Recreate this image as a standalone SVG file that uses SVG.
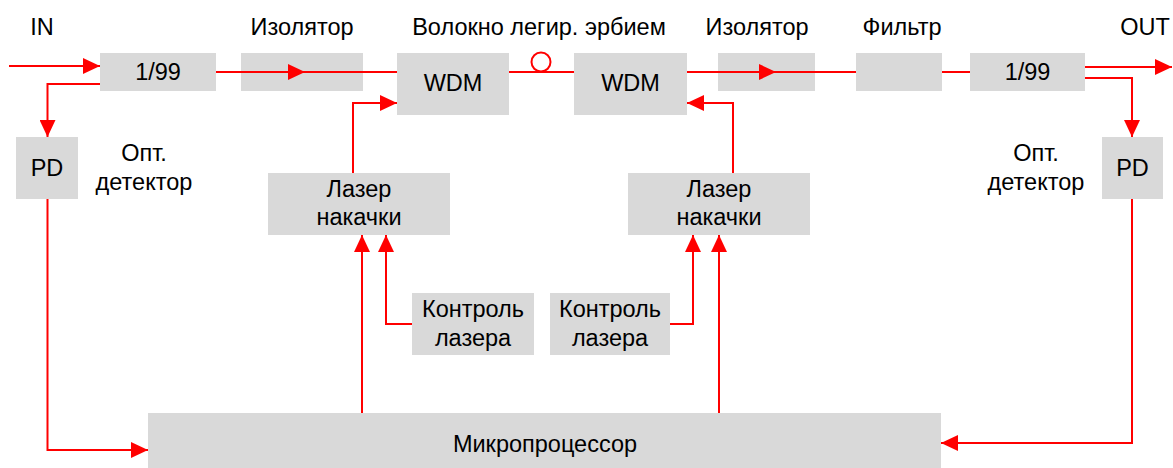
<svg xmlns="http://www.w3.org/2000/svg" width="1173" height="468" viewBox="0 0 1173 468">
<style>
.box{fill:#d9d9d9;}
.t{font-family:"Liberation Sans",Arial,sans-serif;font-size:23.5px;fill:#000;text-anchor:middle;}
.b{font-size:23.5px;}
.c{fill:none;stroke:#ff0000;stroke-width:2;}
</style>
<defs>
<marker id="ah" viewBox="0 0 17 16" refX="17" refY="8" markerWidth="17" markerHeight="16" markerUnits="userSpaceOnUse" orient="auto">
<path d="M0,0 L17,8 L0,16 Z" fill="#ff0000"/>
</marker>
</defs>
<rect width="1173" height="468" fill="#fff"/>
<g id="labels">
<text class="t" x="42" y="35">IN</text>
<text class="t" x="302" y="35">Изолятор</text>
<text class="t" x="539" y="35">Волокно легир. эрбием</text>
<text class="t" x="757" y="35">Изолятор</text>
<text class="t" x="902" y="35">Фильтр</text>
<text class="t" x="1145" y="35">OUT</text>
<text class="t" x="144" y="161">Опт.</text>
<text class="t" x="144" y="190">детектор</text>
<text class="t" x="1036" y="161">Опт.</text>
<text class="t" x="1036" y="190">детектор</text>
</g>
<g id="splitter1"><rect class="box" x="100" y="53" width="116" height="38"/><text class="t b" x="158" y="80">1/99</text></g>
<g id="isolator1"><rect class="box" x="241" y="53" width="122" height="38"/></g>
<g id="wdm1"><rect class="box" x="397" y="53" width="112" height="62"/><text class="t b" x="453" y="91">WDM</text></g>
<g id="wdm2"><rect class="box" x="574" y="53" width="113" height="62"/><text class="t b" x="630.5" y="91">WDM</text></g>
<g id="isolator2"><rect class="box" x="718" y="53" width="97" height="38"/></g>
<g id="filter"><rect class="box" x="856" y="53" width="86" height="38"/></g>
<g id="splitter2"><rect class="box" x="970" y="53" width="115" height="38"/><text class="t b" x="1027.5" y="80">1/99</text></g>
<g id="pd1"><rect class="box" x="16" y="137" width="62" height="62"/><text class="t b" x="47" y="176">PD</text></g>
<g id="pd2"><rect class="box" x="1102" y="137" width="61" height="62"/><text class="t b" x="1132.5" y="176">PD</text></g>
<g id="laser1"><rect class="box" x="268" y="173" width="182" height="62"/><text class="t" x="359" y="197">Лазер</text><text class="t" x="359" y="225">накачки</text></g>
<g id="laser2"><rect class="box" x="628" y="173" width="182" height="62"/><text class="t" x="719" y="197">Лазер</text><text class="t" x="719" y="225">накачки</text></g>
<g id="control1"><rect class="box" x="412" y="293" width="122" height="62"/><text class="t" x="473" y="317">Контроль</text><text class="t" x="473" y="346">лазера</text></g>
<g id="control2"><rect class="box" x="550" y="293" width="120" height="62"/><text class="t" x="610" y="317">Контроль</text><text class="t" x="610" y="346">лазера</text></g>
<g id="processor"><rect class="box" x="148" y="413" width="793" height="55"/><text class="t b" x="545" y="452">Микропроцессор</text></g>
<g id="connectors">
<path class="c" d="M9,66 H100" marker-end="url(#ah)"/>
<path class="c" d="M216,72 H397"/>
<path class="c" d="M216,72 H305" marker-end="url(#ah)"/>
<path class="c" d="M509,72 H574"/>
<circle class="c" cx="541" cy="62" r="9.5" fill="#fff"/>
<path class="c" d="M687,72 H856"/>
<path class="c" d="M687,72 H776" marker-end="url(#ah)"/>
<path class="c" d="M942,72 H970"/>
<path class="c" d="M1085,67 H1172" marker-end="url(#ah)"/>
<path class="c" d="M1085,78 H1132 V137" marker-end="url(#ah)"/>
<path class="c" d="M100,84 H47.5 V137" marker-end="url(#ah)"/>
<path class="c" d="M353,173 V103 H397" marker-end="url(#ah)"/>
<path class="c" d="M733,173 V103 H687" marker-end="url(#ah)"/>
<path class="c" d="M47.5,199 V450 H148" marker-end="url(#ah)"/>
<path class="c" d="M1132,199 V443 H941" marker-end="url(#ah)"/>
<path class="c" d="M362,413 V235" marker-end="url(#ah)"/>
<path class="c" d="M719,413 V235" marker-end="url(#ah)"/>
<path class="c" d="M412,324 H386 V235" marker-end="url(#ah)"/>
<path class="c" d="M670,324 H693 V235" marker-end="url(#ah)"/>
</g>
</svg>
